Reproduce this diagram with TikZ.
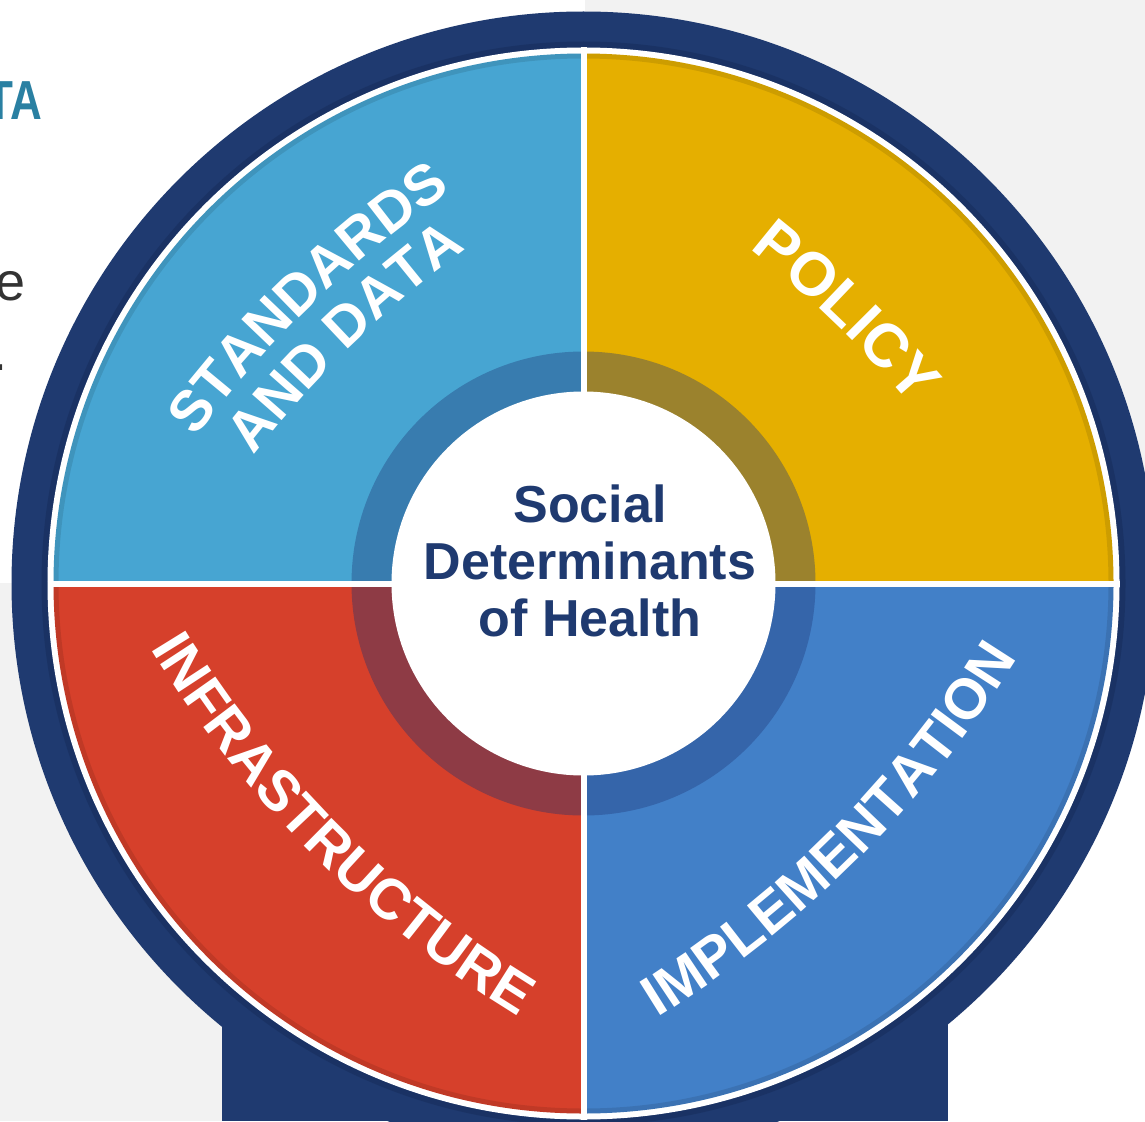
\documentclass[tikz,border=0pt]{standalone}
\usepackage{fontspec}
\setmainfont{Liberation Sans}
\setsansfont{Liberation Sans}
\usetikzlibrary{decorations.text}

\definecolor{navy}{HTML}{1F3A70}
\definecolor{navyshade}{HTML}{172E5C}
\definecolor{bggray}{HTML}{F2F2F2}
\definecolor{stdblue}{HTML}{47A5D2}
\definecolor{polgold}{HTML}{E5AF00}
\definecolor{infred}{HTML}{D6402B}
\definecolor{impblue}{HTML}{4280C8}
\definecolor{stdring}{HTML}{387CAF}
\definecolor{polring}{HTML}{9B822D}
\definecolor{infring}{HTML}{8E3B45}
\definecolor{impring}{HTML}{3565AA}
\definecolor{headteal}{HTML}{2A80A2}
\definecolor{bodygray}{HTML}{333333}

\newcommand{\quadfont}{\sffamily\bfseries\fontsize{57}{60}\selectfont}
\newcommand{\polfont}{\sffamily\bfseries\fontsize{61}{64}\selectfont}

\begin{document}
\begin{tikzpicture}[x=1pt, y=1pt,
    quadlabel/.style={decorate, decoration={text along path, text align=center, text color=white, text={|\quadfont|#1}}},
    pollabel/.style={decorate, decoration={text along path, text align=center, text color=white, text={|\polfont|#1}}}]

    \pgfmathsetmacro{\rnavy}{572}
    \pgfmathsetmacro{\rwhite}{536}
    \pgfmathsetmacro{\rquad}{530}
    \pgfmathsetmacro{\rring}{232}
    \pgfmathsetmacro{\rhub}{192}

    \useasboundingbox (0,0) rectangle (1145,-1121);
    \clip (0,0) rectangle (1145,-1121);
    \coordinate (O) at (583.5,-583.5);

    % backdrop of the slide
    \fill[white] (0,0) rectangle (1145,-1121);
    \fill[bggray] (585,0) rectangle (1145,-583);
    \fill[bggray] (0,-583) rectangle (585,-1121);

    \node[anchor=base east, inner sep=0, text=headteal, font=\bfseries\fontsize{55}{60}\selectfont, xscale=.8] (heading) at (42,-120) {TA};
    \node[anchor=base east, inner sep=0, text=bodygray, font=\fontsize{54}{60}\selectfont] (bodye) at (26,-300) {e};
    \node[anchor=base east, inner sep=0, text=bodygray, font=\fontsize{54}{60}\selectfont] (bodydot) at (8,-370) {.};

    % stand and outer ring
    \fill[navy] (222,-800) rectangle (948,-1121);
    \fill[navy] (O) circle[radius=\rnavy];
    \draw[navyshade, line width=6, opacity=.6] (O) circle[radius=\rwhite+3];
    \fill[white] (O) circle[radius=\rwhite];

    % quadrants
    \fill[polgold] (O) -- ++(0:\rquad) arc[start angle=0, end angle=90, radius=\rquad] -- cycle;
    \fill[stdblue] (O) -- ++(90:\rquad) arc[start angle=90, end angle=180, radius=\rquad] -- cycle;
    \fill[infred] (O) -- ++(180:\rquad) arc[start angle=180, end angle=270, radius=\rquad] -- cycle;
    \fill[impblue] (O) -- ++(270:\rquad) arc[start angle=270, end angle=360, radius=\rquad] -- cycle;
    \draw[black, line width=5, opacity=.1] (O) circle[radius=\rquad-2.5];

    % darker ring round the hub
    \fill[polring] (O) -- ++(0:\rring) arc[start angle=0, end angle=90, radius=\rring] -- cycle;
    \fill[stdring] (O) -- ++(90:\rring) arc[start angle=90, end angle=180, radius=\rring] -- cycle;
    \fill[infring] (O) -- ++(180:\rring) arc[start angle=180, end angle=270, radius=\rring] -- cycle;
    \fill[impring] (O) -- ++(270:\rring) arc[start angle=270, end angle=360, radius=\rring] -- cycle;

    % white gaps
    \draw[white, line width=6] (O) ++(180:\rwhite) -- ++(2*\rwhite,0);
    \draw[white, line width=6] (O) ++(90:\rwhite) -- ++(0,-2*\rwhite);
    \fill[white] (O) circle[radius=\rhub];

    \node[align=center, inner sep=0, text=navy, font=\bfseries\fontsize{52}{57}\selectfont] (hub) at (590,-561) {Social\\Determinants\\of Health};

    % labels on gentle arches (radius 1100)
    \path[quadlabel={STANDARDS}] (O) ++(314:711) ++(154:1100) arc[start angle=154, end angle=114, radius=1100];
    \path[quadlabel={AND DATA}] (O) ++(314:711) ++(154:1043) arc[start angle=154, end angle=114, radius=1043];
    \path[pollabel={POLICY}] (O) ++(226:738) ++(66:1100) arc[start angle=66, end angle=26, radius=1100];
    \path[quadlabel={INFRASTRUCTURE}] (O) ++(45:717) ++(205:1100) arc[start angle=205, end angle=245, radius=1100];
    \path[quadlabel={IMPLEMENTATION}] (O) ++(135:711) ++(295:1100) arc[start angle=295, end angle=335, radius=1100];

\end{tikzpicture}
\end{document}
